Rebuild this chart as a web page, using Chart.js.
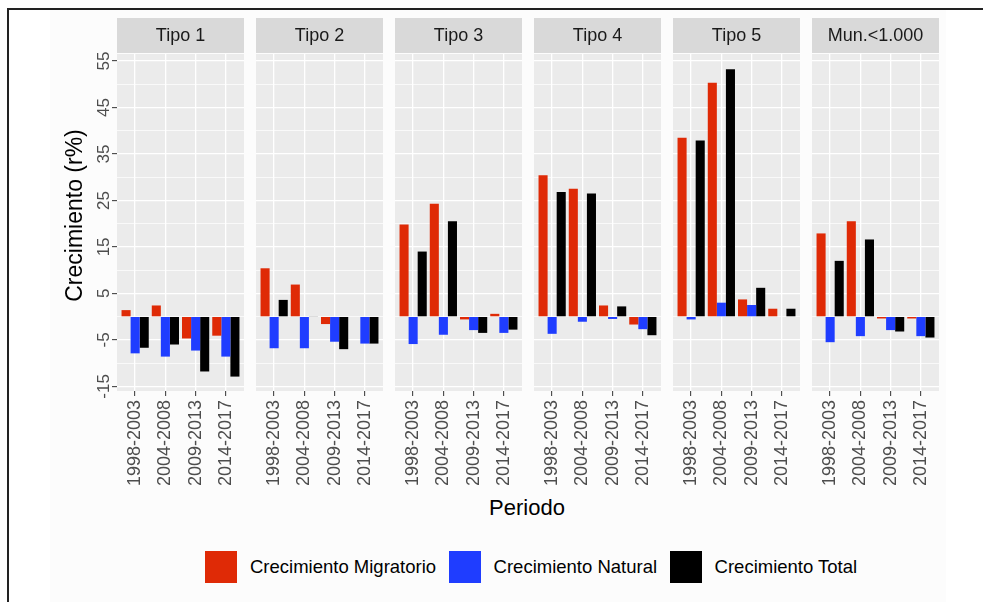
<!DOCTYPE html>
<html><head><meta charset="utf-8">
<script src="https://cdn.jsdelivr.net/npm/chart.js@4.4.1/dist/chart.umd.min.js"></script>
<style>
html,body{margin:0;padding:0;background:#fff;}
#wrap{position:relative;width:983px;height:602px;overflow:hidden;font-family:"Liberation Sans",Arial,sans-serif;background:#fff;}
#bg{position:absolute;left:50px;top:10px;width:896px;height:592px;background:#FCFCFC;}
#bt{position:absolute;left:8px;top:8px;width:975px;height:1.5px;background:#222;}
#bl{position:absolute;left:7px;top:8px;width:1.5px;height:594px;background:#222;}
canvas{position:absolute;}
#xtitle{position:absolute;left:427px;top:496px;width:200px;text-align:center;font-size:22px;line-height:24px;color:#000;}
#legend{position:absolute;left:205px;top:551px;height:32px;display:flex;align-items:center;white-space:nowrap;}
.key{display:inline-block;width:32px;height:32px;margin-right:13px;}
.lt{font-size:18.5px;color:#000;margin-right:12.5px;}
</style></head><body>
<div id="wrap">
  <div id="bg"></div><div id="bt"></div><div id="bl"></div>
  <div id="xtitle">Periodo</div>
  <div id="legend"></div>
</div>
<script>
// ---------- data ----------
const facets = ['Tipo 1', 'Tipo 2', 'Tipo 3', 'Tipo 4', 'Tipo 5', 'Mun.<1.000'];
const periods = ['1998-2003', '2004-2008', '2009-2013', '2014-2017'];
const seriesNames = ['Crecimiento Migratorio', 'Crecimiento Natural', 'Crecimiento Total'];
const migratorio = [
  [1.4, 2.4, -4.7, -4.1],
  [10.4, 6.9, -1.6, 0],
  [19.8, 24.3, -0.6, 0.6],
  [30.4, 27.5, 2.4, -1.7],
  [38.5, 50.3, 3.7, 1.7],
  [17.9, 20.5, -0.4, -0.4]
];
const natural = [
  [-7.9, -8.6, -7.3, -8.6],
  [-6.8, -6.8, -5.4, -5.8],
  [-5.9, -3.9, -2.9, -3.5],
  [-3.7, -1.1, -0.5, -2.7],
  [-0.6, 3.0, 2.5, 0],
  [-5.5, -4.2, -2.9, -4.2]
];
const total = [
  [-6.7, -6.0, -11.8, -12.9],
  [3.6, 0.1, -7.0, -5.8],
  [14.0, 20.5, -3.5, -2.8],
  [26.8, 26.5, 2.2, -4.0],
  [37.9, 53.2, 6.2, 1.7],
  [12.0, 16.6, -3.2, -4.5]
];
const yTickLabels = [-15, -5, 5, 15, 25, 35, 45, 55];
const yMinorTicks = [-10, 0, 10, 20, 30, 40, 50];
const seriesColors = ['#DF2A06', '#1F3DFF', '#000000'];

// ---------- layout ----------
const FONT = '"Liberation Sans", Arial, sans-serif';
const panelLefts = [117, 256, 395, 534, 673, 812];
const PANEL_W = 127;
const CANVAS_TOP = 18;
const STRIP_H = 36;
const CANVAS_H = 480;
const X_AXIS_H = 107;
const Y_PAD = 72;

const facetPlugin = {
  id: 'facet',
  beforeDraw(chart, args, opts) {
    const {ctx, chartArea: a} = chart;
    ctx.save();
    ctx.fillStyle = '#EBEBEB';
    ctx.fillRect(a.left, a.top, a.right - a.left, a.bottom - a.top);
    ctx.fillStyle = '#D9D9D9';
    ctx.fillRect(a.left, a.top - STRIP_H, a.right - a.left, STRIP_H - 1);
    ctx.fillStyle = '#1A1A1A';
    ctx.font = '18px ' + FONT;
    ctx.textAlign = 'center';
    ctx.textBaseline = 'middle';
    ctx.fillText(opts.title, (a.left + a.right) / 2, a.top - STRIP_H / 2);
    ctx.restore();
  },
  afterDraw(chart, args, opts) {
    const {ctx, chartArea: a} = chart;
    const xs = chart.scales.x, ys = chart.scales.y;
    ctx.save();
    ctx.fillStyle = '#4D4D4D';
    ctx.font = '18px ' + FONT;
    ctx.textAlign = 'right';
    ctx.textBaseline = 'middle';
    chart.data.labels.forEach((lab, i) => {
      const px = xs.getPixelForTick(i);
      ctx.save();
      ctx.translate(px, a.bottom + 9);
      ctx.rotate(-Math.PI / 2);
      ctx.fillText(lab, 0, 0);
      ctx.restore();
    });
    if (opts.showY) {
      ctx.font = '17px ' + FONT;
      ctx.textAlign = 'center';
      ctx.textBaseline = 'alphabetic';
      yTickLabels.forEach(v => {
        const py = ys.getPixelForValue(v);
        ctx.save();
        ctx.translate(a.left - 8, py);
        ctx.rotate(-Math.PI / 2);
        ctx.fillText(String(v), 0, 0);
        ctx.restore();
      });
      ctx.fillStyle = '#000';
      ctx.font = '23px ' + FONT;
      ctx.save();
      ctx.translate(a.left - 35, (a.top + a.bottom) / 2 - 7);
      ctx.rotate(-Math.PI / 2);
      ctx.fillText('Crecimiento (r%)', 0, 0);
      ctx.restore();
    }
    ctx.restore();
  }
};

const isMajor = v => (((v + 15) % 10) + 10) % 10 === 0;
const wrap = document.getElementById('wrap');

facets.forEach((name, i) => {
  const first = i === 0;
  const cv = document.createElement('canvas');
  const padLeft = first ? Y_PAD : 0;
  const yW = first ? 5 : 0;
  const w = PANEL_W + padLeft + yW;
  cv.width = w; cv.height = CANVAS_H;
  cv.style.left = (panelLefts[i] - padLeft - yW) + 'px';
  cv.style.top = CANVAS_TOP + 'px';
  cv.style.width = w + 'px'; cv.style.height = CANVAS_H + 'px';
  wrap.appendChild(cv);
  const seriesData = [migratorio[i], natural[i], total[i]];
  new Chart(cv, {
    type: 'bar',
    data: {
      labels: periods,
      datasets: seriesNames.map((n, k) => ({
        label: n,
        data: seriesData[k],
        backgroundColor: seriesColors[k],
        borderWidth: 0,
        categoryPercentage: 0.9,
        barPercentage: 1.0
      }))
    },
    options: {
      responsive: false,
      animation: false,
      devicePixelRatio: 1,
      layout: {padding: {top: STRIP_H, left: padLeft, right: 0, bottom: 0}},
      plugins: {
        legend: {display: false},
        tooltip: {enabled: false},
        facet: {title: name, showY: first}
      },
      scales: {
        x: {
          type: 'category',
          offset: true,
          border: {display: false},
          grid: {color: '#FFFFFF', lineWidth: 1.3, offset: false, drawTicks: true, tickLength: 5, tickColor: '#333333', tickWidth: 1},
          ticks: {display: false},
          afterBuildTicks(s) { s._startValue = -0.6; s._valueRange = s.ticks.length + 0.2; },
          afterFit(s) { s.height = X_AXIS_H; }
        },
        y: {
          min: -16, max: 56.5,
          border: {display: false},
          grid: {
            color: '#FFFFFF',
            lineWidth: c => isMajor(c.tick.value) ? 1.3 : 0.7,
            drawTicks: first,
            tickLength: 5,
            tickWidth: 1,
            tickColor: c => isMajor(c.tick.value) ? '#333333' : 'rgba(0,0,0,0)'
          },
          ticks: {display: false},
          afterBuildTicks(s) {
            s.ticks = yTickLabels.concat(yMinorTicks).sort((a, b) => a - b).map(v => ({value: v}));
          },
          afterFit(s) { s.width = yW; }
        }
      }
    },
    plugins: [facetPlugin]
  });
});

// legend
const lg = document.getElementById('legend');
seriesNames.forEach((n, k) => {
  const key = document.createElement('span');
  key.className = 'key'; key.style.background = seriesColors[k];
  const t = document.createElement('span');
  t.className = 'lt'; t.textContent = n;
  lg.appendChild(key); lg.appendChild(t);
});
</script>
</body></html>
